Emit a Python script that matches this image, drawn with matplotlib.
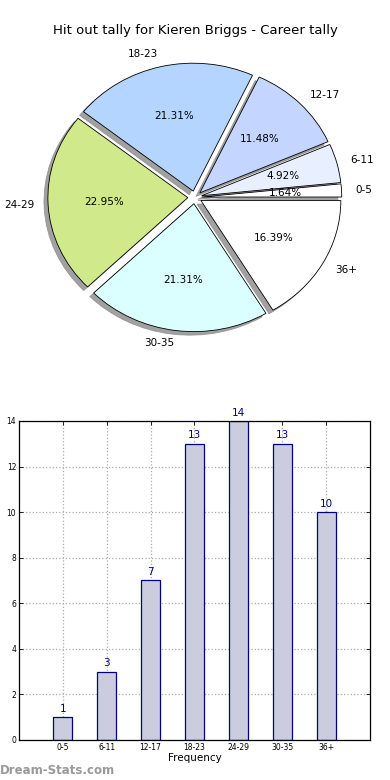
import matplotlib
matplotlib.use("Agg")
import matplotlib.pyplot as plt

# Data
categories = ["0-5", "6-11", "12-17", "18-23", "24-29", "30-35", "36+"]
counts = [1, 3, 7, 13, 14, 13, 10]
pie_colors = ["#ffffff", "#e8f0ff", "#c4d6ff", "#b3d5ff", "#d0e98a", "#dbffff", "#ffffff"]
yticks = [0, 2, 4, 6, 8, 10, 12, 14]

fig = plt.figure(figsize=(3.9, 7.8), dpi=100)
fig.text(0.5, 0.961, "Hit out tally for Kieren Briggs - Career tally",
         ha="center", va="center", fontsize=9.5)

# Pie chart (stretched, not equal aspect)
ax1 = fig.add_axes([0.051, 0.542, 0.897, 0.410])
ax1.pie(counts, labels=categories, colors=pie_colors, explode=[0.05] * len(counts),
        autopct="%.2f%%", startangle=0, counterclock=True,
        shadow={"ox": -0.02, "oy": -0.02, "facecolor": "#8a8a8a",
                "edgecolor": "#8a8a8a", "alpha": 0.8},
        wedgeprops={"edgecolor": "black", "linewidth": 0.6},
        textprops={"fontsize": 7.5})
ax1.set_aspect("auto")
ax1.set_xlim(-1.25, 1.25)
ax1.set_ylim(-1.25, 1.25)

# Bar chart
ax2 = fig.add_axes([0.0487, 0.0513, 0.9, 0.409])
xpos = list(range(1, len(categories) + 1))
bars = ax2.bar(xpos, counts, width=0.43, color="#ccccdf", edgecolor="#000080",
               linewidth=0.9, zorder=2)
for x, v in zip(xpos, counts):
    ax2.text(x, v + 0.15, str(v), ha="center", va="bottom", color="#000080", fontsize=7.5)
ax2.set_xlim(0, 8)
ax2.set_ylim(0, 14)
ax2.set_xticks(xpos)
ax2.set_xticklabels(categories, fontsize=5.5)
ax2.set_yticks(yticks)
ax2.set_yticklabels([str(t) for t in yticks], fontsize=5.5)
ax2.tick_params(direction="in", length=3, width=0.6, top=True, right=True, pad=2)
ax2.grid(True, linestyle=":", color="#aaaaaa", linewidth=0.9, zorder=0)
ax2.set_axisbelow(True)
ax2.set_xlabel("Frequency", fontsize=7.5, labelpad=1)
ax2.set_ylabel("Hit-Out Tally", fontsize=7, labelpad=6)
for s in ax2.spines.values():
    s.set_linewidth(0.9)

fig.text(0.0, 0.012, "Dream-Stats.com", color="#999999", fontsize=8.5,
         fontweight="bold", ha="left", va="center")

fig.savefig("out.png", dpi=100)
